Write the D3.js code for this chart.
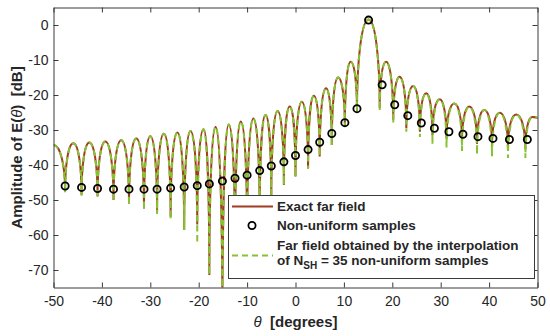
<!DOCTYPE html>
<html>
<head>
<meta charset="utf-8">
<script src="https://cdn.jsdelivr.net/npm/d3@7"></script>
<style>
  body { margin: 0; background: #fff; }
  text { font-family: "Liberation Sans", Arial, sans-serif; fill: #262626; }
</style>
</head>
<body>
<div id="container"></div>
<script>
/* DATA */
// lobe maxima of the pattern (first / last entries are the values at the plot edges)
const peakTheta = [-50, -45.9, -42.6, -39.3, -36.0, -32.9, -30.0, -27.2, -24.4, -21.7, -19.0, -16.5,
  -13.8, -11.3, -8.7, -6.2, -3.7, -1.2, 1.3, 3.8, 6.3, 8.8, 11.4, 15.1,
  18.7, 21.5, 24.3, 27.0, 29.8, 32.8, 35.9, 39.0, 42.2, 45.6, 48.9, 50];
const peakDb = [-34.3, -33.8, -33.6, -33.3, -32.9, -32.4, -31.8, -31.1, -30.7, -30.3, -29.8, -29.1,
  -28.4, -27.6, -26.7, -25.7, -24.6, -23.3, -21.9, -20.2, -18.1, -15.0, -10.5, 1.6,
  -10.5, -14.8, -17.4, -19.5, -21.2, -22.4, -23.3, -24.3, -25.1, -25.6, -26.3, -26.8];

// nulls between the lobes
const nullTheta = [-47.6, -44.2, -40.9, -37.6, -34.4, -31.3, -28.6, -25.8, -23.0, -20.3, -17.8, -15.1,
  -12.5, -10.0, -7.4, -5.0, -2.4, 0.0, 2.6, 5.0, 7.5, 10.2, 12.7,
  17.4, 20.2, 22.9, 25.7, 28.3, 31.2, 34.4, 37.5, 40.6, 43.9, 47.5];
const exactNullDb = [-47.5, -48.5, -49.0, -50.0, -51.0, -52.4, -53.3, -54.8, -58.6, -57.0, -71.4, -85,
  -63, -60, -55, -49.5, -45.7, -43.3, -41.0, -37.6, -34.3, -29.0, -24.5,
  -23.7, -27.1, -29.5, -30.5, -31.5, -32.5, -33.3, -34.0, -34.5, -35.0, -35.5];
const interpNullDb = [-47.8, -48.8, -49.5, -50.5, -51.5, -52.8, -54.0, -55.5, -58.6, -62.4, -71.4, -85,
  -63, -60, -55, -49.5, -45.7, -43.3, -41.0, -37.6, -34.3, -29.0, -24.5,
  -24.5, -28.0, -30.5, -32.0, -34.0, -35.0, -36.0, -37.0, -37.5, -38.0, -38.0];

// the 35 non-uniform samples
const sampleTheta = [-47.6, -44.2, -40.9, -37.6, -34.4, -31.3, -28.6, -25.8, -23.0, -20.3, -17.8, -15.1,
  -12.5, -10.0, -7.4, -5.0, -2.4, 0.0, 2.6, 5.0, 7.5, 10.2, 12.7, 15.1,
  17.9, 20.5, 23.2, 26.0, 28.7, 31.7, 34.6, 37.7, 40.8, 44.2, 47.9];
const sampleDb = [-46.0, -46.4, -46.7, -46.9, -46.9, -46.9, -46.9, -46.6, -46.3, -45.9, -45.4, -44.6,
  -43.8, -42.9, -41.6, -40.3, -39.1, -37.3, -35.6, -33.5, -31.0, -27.9, -23.9, 1.4,
  -17.1, -22.8, -25.9, -28.0, -29.5, -30.5, -31.2, -31.9, -32.4, -32.7, -32.7];

const xTicks = [-50, -40, -30, -20, -10, 0, 10, 20, 30, 40, 50];
const yTicks = [0, -10, -20, -30, -40, -50, -60, -70];

/* CONSTANTS */
const width = 550, height = 336,
  margin = { top: 7.5, right: 12.5, bottom: 48.5, left: 53.5 };
const red = "#a33a22", green = "#86c232";

// custom curve: round lobe tops, needle-like nulls
function LobeCurve(context) { this._context = context; }
LobeCurve.prototype = {
  areaStart() {}, areaEnd() {},
  lineStart() { this._point = 0; },
  lineEnd() {},
  point(x, y) {
    x = +x; y = +y;
    if (this._point === 0) {
      this._point = 1;
      this._context.moveTo(x, y);
    } else {
      const dx = x - this._x0, dy = y - this._y0;
      if (dy > 0) { // peak -> null
        this._context.bezierCurveTo(this._x0 + 0.6 * dx, this._y0, x, y - 0.55 * dy, x, y);
      } else { // null -> peak
        this._context.bezierCurveTo(this._x0, this._y0 + 0.55 * dy, x - 0.6 * dx, y, x, y);
      }
    }
    this._x0 = x; this._y0 = y;
  }
};
const curveLobe = context => new LobeCurve(context);

function series(nullDb) {
  return peakTheta.map((t, i) => ({ t, v: peakDb[i] }))
    .concat(nullTheta.map((t, i) => ({ t, v: nullDb[i] })))
    .sort((a, b) => a.t - b.t);
}

/* SCALES */
const xScale = d3.scaleLinear().domain([-50, 50]).range([margin.left, width - margin.right]);
const yScale = d3.scaleLinear().domain([-75, 5]).range([height - margin.bottom, margin.top]);

const svg = d3.select("#container").append("svg")
  .attr("width", width).attr("height", height);

svg.append("clipPath").attr("id", "plot")
  .append("rect")
  .attr("x", xScale(-50)).attr("y", yScale(5))
  .attr("width", xScale(50) - xScale(-50)).attr("height", yScale(-75) - yScale(5));

const line = d3.line().x(d => xScale(d.t)).y(d => yScale(d.v)).curve(curveLobe);

const lines = svg.append("g").attr("clip-path", "url(#plot)");
lines.append("path")
  .attr("d", line(series(exactNullDb)))
  .attr("fill", "none").attr("stroke", red).attr("stroke-width", 2);
lines.append("path")
  .attr("d", line(series(interpNullDb)))
  .attr("fill", "none").attr("stroke", green).attr("stroke-width", 2)
  .attr("stroke-dasharray", "6,4");

svg.append("g").selectAll("circle")
  .data(sampleTheta)
  .join("circle")
  .attr("cx", d => xScale(d))
  .attr("cy", (d, i) => yScale(sampleDb[i]))
  .attr("r", 3.6)
  .attr("fill", "none").attr("stroke", "#000").attr("stroke-width", 1.8);

/* AXES */
const plain = d => String(d); // hyphen minus like the original
function styleAxis(g) {
  g.attr("color", "#3a3a3a");
  g.selectAll("text").attr("font-size", 14).attr("font-family", null);
}
svg.append("g")
  .attr("transform", `translate(0,${yScale(-75)})`)
  .call(d3.axisBottom(xScale).tickValues(xTicks).tickFormat(plain).tickSize(-5).tickSizeOuter(0).tickPadding(9))
  .call(styleAxis);
svg.append("g")
  .attr("transform", `translate(0,${yScale(5)})`)
  .call(d3.axisTop(xScale).tickValues(xTicks).tickSize(-5).tickSizeOuter(0).tickFormat(""))
  .call(styleAxis);
svg.append("g")
  .attr("transform", `translate(${xScale(-50)},0)`)
  .call(d3.axisLeft(yScale).tickValues(yTicks).tickFormat(plain).tickSize(-5).tickSizeOuter(0).tickPadding(5))
  .call(styleAxis);
svg.append("g")
  .attr("transform", `translate(${xScale(50)},0)`)
  .call(d3.axisRight(yScale).tickValues(yTicks).tickSize(-5).tickSizeOuter(0).tickFormat(""))
  .call(styleAxis);

/* AXIS LABELS */
const yLab = svg.append("text")
  .attr("transform", `translate(22,${(yScale(5) + yScale(-75)) / 2}) rotate(-90)`)
  .attr("text-anchor", "middle").attr("font-size", 15).attr("font-weight", "bold")
  .style("white-space", "pre");
yLab.append("tspan").text("Amplitude of E(");
yLab.append("tspan").attr("font-style", "italic").attr("font-weight", "normal").text("θ");
yLab.append("tspan").text(")  [dB]");

const xLab = svg.append("text")
  .attr("x", (xScale(-50) + xScale(50)) / 2).attr("y", 327)
  .attr("text-anchor", "middle").attr("font-size", 15).attr("font-weight", "bold")
  .style("white-space", "pre");
xLab.append("tspan").attr("font-style", "italic").attr("font-weight", "normal").text("θ");
xLab.append("tspan").text("  [degrees]");

/* LEGEND */
const legend = svg.append("g");
legend.append("rect")
  .attr("x", 228.5).attr("y", 195.5).attr("width", 306).attr("height", 83)
  .attr("fill", "#fff").attr("stroke", "#3a3a3a").attr("stroke-width", 1);
legend.append("line")
  .attr("x1", 232).attr("x2", 273).attr("y1", 206.5).attr("y2", 206.5)
  .attr("stroke", red).attr("stroke-width", 2);
legend.append("circle")
  .attr("cx", 252).attr("cy", 225.5).attr("r", 3.6)
  .attr("fill", "none").attr("stroke", "#000").attr("stroke-width", 1.8);
legend.append("line")
  .attr("x1", 232).attr("x2", 273).attr("y1", 255.5).attr("y2", 255.5)
  .attr("stroke", green).attr("stroke-width", 2).attr("stroke-dasharray", "6,4");

const legendText = [
  { y: 206.5, s: "Exact far field" },
  { y: 225.5, s: "Non-uniform samples" },
  { y: 245, s: "Far field obtained by the interpolation" }
];
legend.selectAll("text.entry")
  .data(legendText)
  .join("text")
  .attr("class", "entry")
  .attr("x", 277).attr("y", d => d.y).attr("dy", "0.36em")
  .attr("font-size", 13.5).attr("font-weight", "bold")
  .text(d => d.s);
const last = legend.append("text")
  .attr("x", 277).attr("y", 260).attr("dy", "0.36em")
  .attr("font-size", 13.5).attr("font-weight", "bold")
  .style("white-space", "pre");
last.append("tspan").text("of N");
last.append("tspan").attr("dy", 4).attr("font-size", 10).text("SH");
last.append("tspan").attr("dy", -4).text(" = 35 non-uniform samples");
</script>
</body>
</html>
